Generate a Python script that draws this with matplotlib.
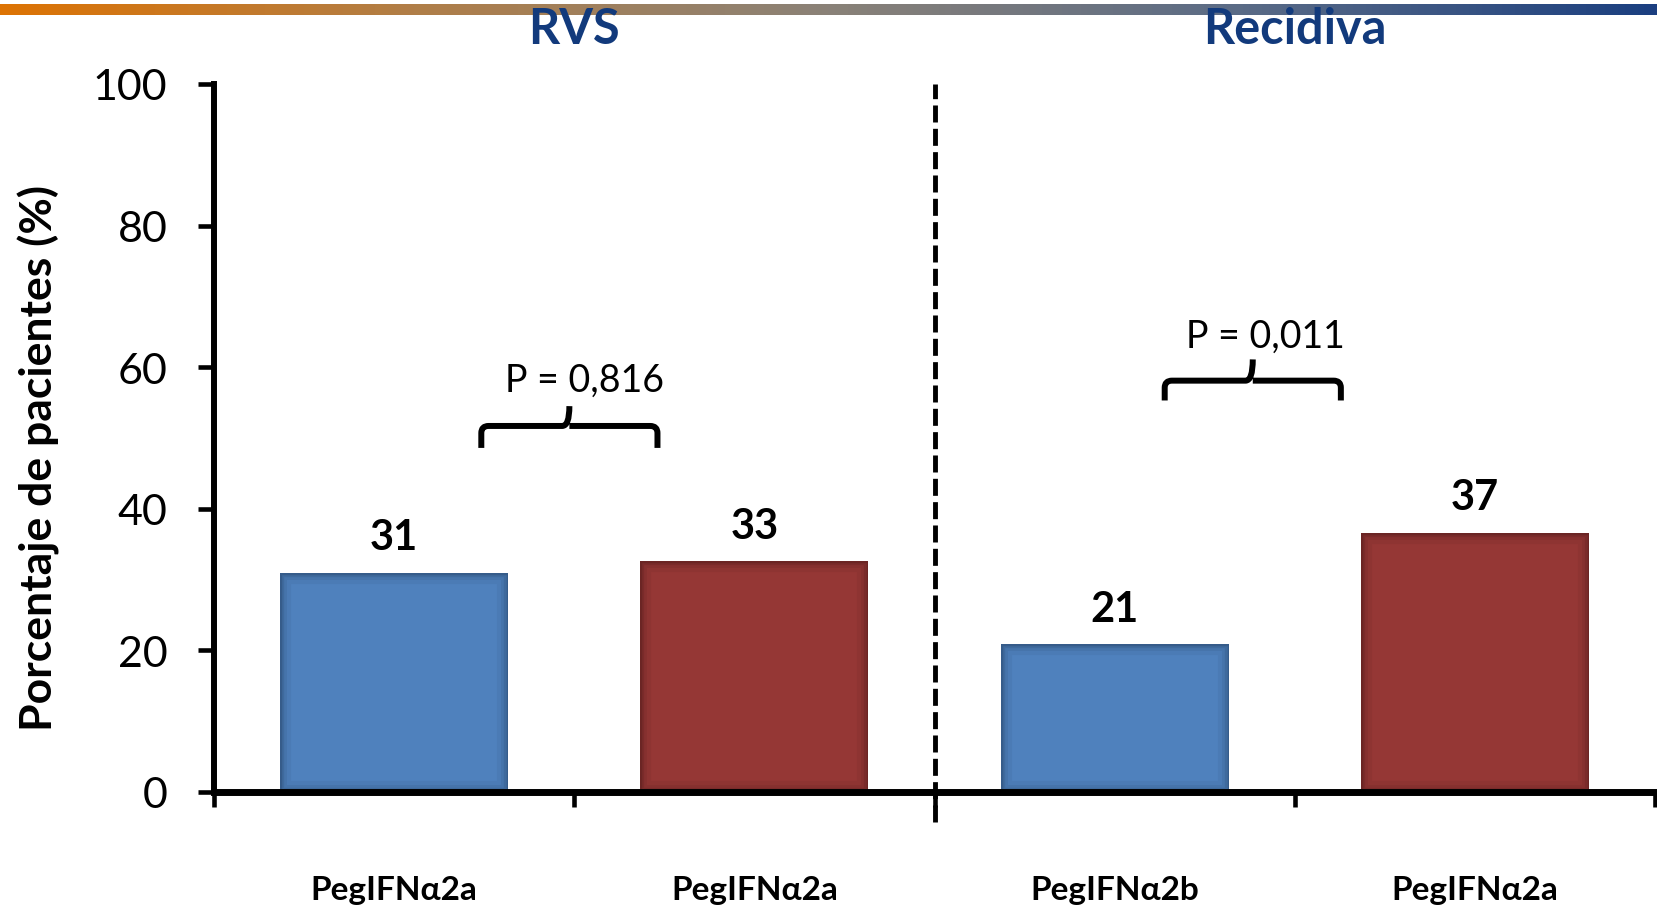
import numpy as np
import matplotlib
matplotlib.use("Agg")
import matplotlib.pyplot as plt
from matplotlib.path import Path
from matplotlib.patches import PathPatch
from matplotlib.colors import LinearSegmentedColormap

plt.rcParams['font.family'] = ['Lato', 'DejaVu Sans']

# Data
categories = ["PegIFN\u03b12a", "PegIFN\u03b12a", "PegIFN\u03b12b", "PegIFN\u03b12a"]
values = [31.0, 32.6, 20.9, 36.6]
value_labels = ["31", "33", "21", "37"]
bar_colors = ["#4F81BD", "#953735", "#4F81BD", "#953735"]
edge_colors = ["#2C4D75", "#5A1F1E", "#2C4D75", "#5A1F1E"]
group_titles = ["RVS", "Recidiva"]
group_centers = [0.5, 2.5]
p_texts = ["P = 0,816", "P = 0,011"]
# bracket: x start, x end, y legs bottom, y top, y peak
brackets = [(0.242, 0.731, 48.6, 51.7, 54.5), (2.139, 2.628, 55.3, 58.1, 61.1)]
p_pos = [(0.528, 58.3), (2.419, 64.5)]

W, H = 1657, 912
fig = plt.figure(figsize=(W / 100, H / 100), dpi=100)
ax = fig.add_axes([214 / W, 1 - 793 / H, (1655 - 214) / W, (793 - 85) / H])

x = np.arange(len(categories))
bars = ax.bar(x, values, width=0.633, color=bar_colors, zorder=2)
# inner shading on bar edges
for b, ec in zip(bars, edge_colors):
    for lw, a in [(16, 0.10), (10, 0.15), (6, 0.25), (2.5, 0.45)]:
        r = plt.Rectangle(b.get_xy(), b.get_width(), b.get_height(), fill=False,
                          edgecolor=ec, lw=lw, alpha=a, zorder=3)
        ax.add_patch(r)
        r.set_clip_path(b)

for xi, v, lab in zip(x, values, value_labels):
    ax.text(xi, v + 5.0, lab, ha='center', va='center', fontsize=30,
            fontweight='bold', color='black')

ax.set_xlim(-0.5, 3.5)
ax.set_ylim(0, 100)
ax.set_yticks(np.arange(0, 101, 20))
ax.tick_params(axis='y', direction='out', length=11.5, width=3.3, pad=22, labelsize=31)
ax.set_xticks(x)
ax.set_xticklabels(categories, fontsize=24, fontweight='bold')
ax.tick_params(axis='x', length=0, pad=60)
ax.set_xticks([-0.5, 0.5, 1.5, 2.5, 3.5], minor=True)
ax.tick_params(axis='x', which='minor', direction='out', length=11, width=3.3)

for s in ['top', 'right']:
    ax.spines[s].set_visible(False)
ax.spines['left'].set_linewidth(4.3)
ax.spines['bottom'].set_linewidth(5)
ax.spines['bottom'].set_zorder(4)

# dashed separator
ax.plot([1.5, 1.5], [-4.3, 100], color='black', lw=3.5, ls=(0, (3.5, 1.3)),
        clip_on=False, zorder=1)

# brackets
for (x0, x1, yb, yt, yp) in brackets:
    xc = (x0 + x1) / 2
    rx, ry = 0.02, 1.0
    verts = [(x0, yb), (x0, yt - ry), (x0, yt), (x0 + rx, yt),
             (xc - rx, yt), (xc, yt), (xc, yp),
             (xc, yt), (xc + rx, yt),
             (x1 - rx, yt), (x1, yt), (x1, yt - ry), (x1, yb)]
    codes = [Path.MOVETO, Path.LINETO, Path.CURVE3, Path.CURVE3,
             Path.LINETO, Path.CURVE3, Path.CURVE3,
             Path.MOVETO, Path.CURVE3,
             Path.LINETO, Path.CURVE3, Path.CURVE3, Path.LINETO]
    ax.add_patch(PathPatch(Path(verts, codes), fill=False, lw=4.3,
                           edgecolor='black', capstyle='butt', joinstyle='round'))

for (px, py), t in zip(p_pos, p_texts):
    ax.text(px, py, t, ha='center', va='center', fontsize=27)

# group titles
for gc, t in zip(group_centers, group_titles):
    xf = (214 + (gc + 0.5) * 360.25) / W
    fig.text(xf, 1 - 30 / H, t, ha='center', va='center', fontsize=35,
             fontweight='bold', color='#123A7C')

fig.text(39 / W, 1 - 458 / H, "Porcentaje de pacientes (%)", rotation=90,
         ha='center', va='center', fontsize=32, fontweight='bold')

# top gradient bar
gax = fig.add_axes([0, 1 - 15.5 / H, 1, 10.5 / H])
cmap = LinearSegmentedColormap.from_list(
    'topbar', ["#DD7303", "#B07E48", "#8A8278", "#5A6B86", "#1B3F80"])
gax.imshow(np.linspace(0, 1, 512)[None, :], aspect='auto', cmap=cmap)
gax.set_axis_off()

fig.savefig("out.png", dpi=100)
